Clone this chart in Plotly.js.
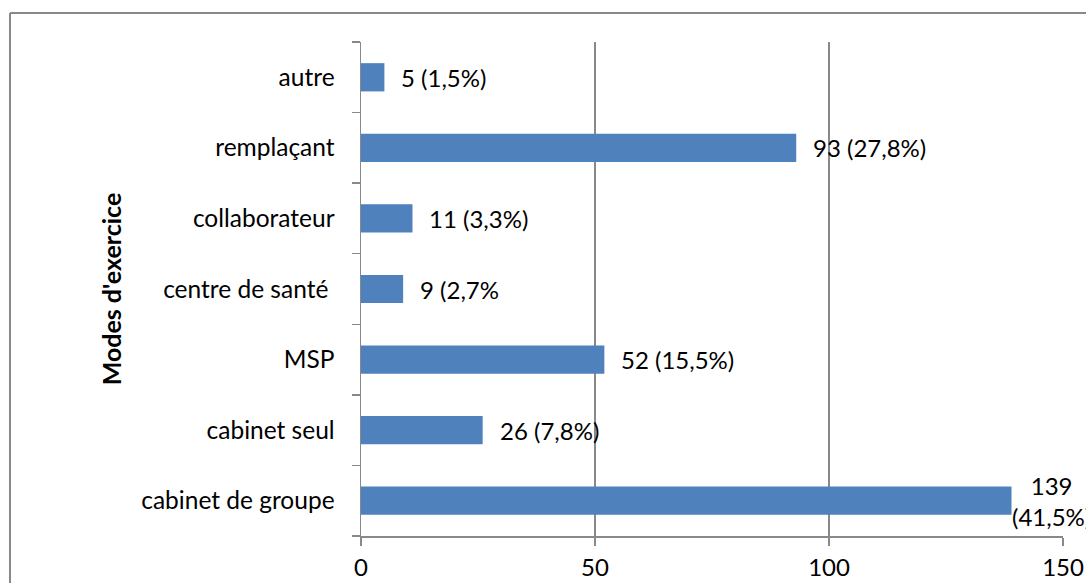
<!DOCTYPE html>
<html>
<head>
<meta charset="utf-8">
<script src="https://cdn.plot.ly/plotly-3.0.1.min.js"></script>
<style>
html,body{margin:0;padding:0;background:#fff;}
#chart{width:1086px;height:583px;}
</style>
</head>
<body>
<div id="chart"></div>
<script>
var categories = ["cabinet de groupe", "cabinet seul", "MSP", "centre de santé\u00a0", "collaborateur", "remplaçant", "autre"];
var counts = [139, 26, 52, 9, 11, 93, 5];
var labels = ["139<br>(41,5%)", "26 (7,8%)", "52 (15,5%)", "9 (2,7%", "11 (3,3%)", "93 (27,8%)", "5 (1,5%)"];
var xTicks = [0, 50, 100, 150];

var FONT = "Lato, 'Open Sans', sans-serif";
var GRID = "#898989";

var trace = {
  type: "bar",
  orientation: "h",
  x: counts,
  y: categories,
  marker: {color: "#4F81BD", line: {width: 0}},
  hoverinfo: "x+y"
};

var annotations = counts.map(function (v, i) {
  var wrapped = labels[i].indexOf("<br>") >= 0;
  return {
    x: v, y: categories[i], xref: "x", yref: "y",
    text: labels[i], showarrow: false,
    xanchor: "left", yanchor: "middle",
    xshift: wrapped ? -2 : 15,
    align: "center",
    font: {family: FONT, size: 24, color: "#000"}
  };
});

var layout = {
  width: 1086, height: 583,
  margin: {l: 361, r: 23, t: 42, b: 47},
  paper_bgcolor: "#fff", plot_bgcolor: "#fff",
  showlegend: false,
  bargap: 0.6,
  font: {family: FONT, size: 24, color: "#000"},
  xaxis: {
    range: [0, 150],
    tickvals: xTicks,
    ticktext: xTicks.map(String),
    showgrid: true, gridcolor: GRID, gridwidth: 1.5,
    zeroline: false,
    showline: true, linecolor: GRID, linewidth: 1.5,
    ticks: "outside", ticklen: 8, tickcolor: GRID, tickwidth: 1.5,
    ticklabelstandoff: 2,
    tickfont: {family: FONT, size: 24, color: "#000"},
    fixedrange: true
  },
  yaxis: {
    type: "category",
    categoryorder: "array", categoryarray: categories,
    range: [-0.5, 6.5],
    showgrid: false, zeroline: false,
    showline: true, linecolor: GRID, linewidth: 1.5,
    ticks: "outside", ticklen: 8, tickcolor: GRID, tickwidth: 1.5,
    tickson: "boundaries",
    ticklabelstandoff: 20,
    tickfont: {family: FONT, size: 24.5, color: "#000"},
    title: {text: "<b>Modes d'exercice</b>", standoff: 12,
            font: {family: FONT, size: 25, color: "#000"}},
    fixedrange: true
  },
  annotations: annotations,
  shapes: [
    {type: "line", xref: "paper", yref: "paper",
     x0: (10 - 361) / 702, x1: 1.2, y0: (536 - 13) / 494, y1: (536 - 13) / 494,
     line: {color: GRID, width: 2}},
    {type: "line", xref: "paper", yref: "paper",
     x0: (10 - 361) / 702, x1: (10 - 361) / 702, y0: (536 - 13) / 494, y1: -0.3,
     line: {color: GRID, width: 2}}
  ]
};

Plotly.newPlot("chart", [trace], layout, {displayModeBar: false, staticPlot: true});
</script>
</body>
</html>
